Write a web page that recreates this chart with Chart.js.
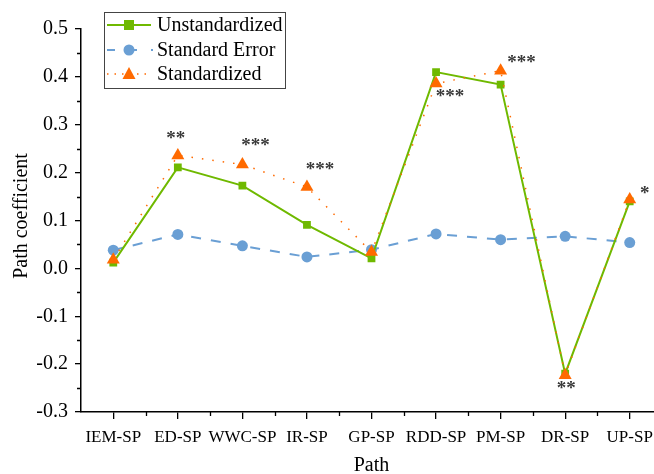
<!DOCTYPE html>
<html>
<head>
<meta charset="utf-8">
<script src="https://cdn.jsdelivr.net/npm/chart.js@4.4.1/dist/chart.umd.min.js"></script>
<style>
  html, body { margin: 0; padding: 0; background: #fff; overflow: hidden; width: 654px; height: 474px; }
  canvas { display: block; }
</style>
</head>
<body>
<canvas id="draw-on-me" width="680" height="474"></canvas>
<script>
'use strict';

const categories = ['IEM-SP', 'ED-SP', 'WWC-SP', 'IR-SP', 'GP-SP', 'RDD-SP', 'PM-SP', 'DR-SP', 'UP-SP'];
const unstandardized = [0.012, 0.211, 0.173, 0.091, 0.021, 0.410, 0.384, -0.220, 0.140];
const standardError = [0.038, 0.071, 0.047, 0.024, 0.039, 0.072, 0.060, 0.067, 0.054];
const standardized = [0.018, 0.236, 0.217, 0.170, 0.034, 0.386, 0.413, -0.223, 0.144];
const significance = ['', '**', '***', '***', '', '***', '***', '**', '*'];
const yMin = -0.3;
const yMax = 0.5;
const yStep = 0.1;

// where each star label sits, relative to the standardized point (px)
const starOffsets = [[0, 0], [-2, -16], [13, -18], [13, -17], [0, 0], [14, 14], [21, -8], [1, 14], [15, -5]];

const serif = '"Liberation Serif", "DejaVu Serif", serif';
const green = '#6fb900';
const blue = '#6a9fd4';
const orange = '#ff6a00';

// minor ticks, star labels and the legend box
const extras = {
    id: 'extras',
    afterDatasetsDraw(chart) {
        const ctx = chart.ctx;
        const meta = chart.getDatasetMeta(2);
        ctx.save();
        ctx.fillStyle = '#3a3a3a';
        ctx.font = 'bold 19px ' + serif;
        ctx.textAlign = 'center';
        ctx.textBaseline = 'middle';
        for (let i = 0; i < significance.length; i++) {
            if (!significance[i]) continue;
            let pt = meta.data[i];
            ctx.fillText(significance[i], pt.x + starOffsets[i][0], pt.y + starOffsets[i][1]);
        }
        ctx.restore();
    },
    afterDraw(chart) {
        const ctx = chart.ctx;
        const x = chart.scales.x;
        const y = chart.scales.y;
        const area = chart.chartArea;
        ctx.save();
        ctx.strokeStyle = '#000';
        ctx.lineWidth = 1.3;
        ctx.beginPath();
        for (let v = yMin + yStep / 2; v < yMax; v += yStep) {
            let py = Math.round(y.getPixelForValue(v)) + 0.5;
            ctx.moveTo(area.left, py);
            ctx.lineTo(area.left - 4, py);
        }
        for (let i = 0; i < categories.length - 1; i++) {
            let px = Math.round((x.getPixelForValue(i) + x.getPixelForValue(i + 1)) / 2) + 0.5;
            ctx.moveTo(px, area.bottom);
            ctx.lineTo(px, area.bottom + 4);
        }
        ctx.stroke();

        // y title, a bit above the middle like the original
        ctx.fillStyle = '#000';
        ctx.font = '20px ' + serif;
        ctx.textAlign = 'center';
        ctx.textBaseline = 'middle';
        ctx.translate(22, 216);
        ctx.rotate(-Math.PI / 2);
        ctx.fillText('Path coefficient', 0, 0);
        ctx.setTransform(1, 0, 0, 1, 0, 0);

        // legend
        ctx.strokeStyle = '#444';
        ctx.lineWidth = 1;
        ctx.strokeRect(104.5, 12.5, 181, 76);
        const rows = [25, 50, 74];
        ctx.lineWidth = 2;
        ctx.strokeStyle = green;
        ctx.beginPath(); ctx.moveTo(107, rows[0]); ctx.lineTo(151, rows[0]); ctx.stroke();
        ctx.fillStyle = green;
        ctx.fillRect(124, rows[0] - 5, 10, 10);

        ctx.strokeStyle = blue;
        ctx.setLineDash([8, 14]);
        ctx.beginPath(); ctx.moveTo(107, rows[1]); ctx.lineTo(153, rows[1]); ctx.stroke();
        ctx.setLineDash([]);
        ctx.fillStyle = blue;
        ctx.beginPath(); ctx.arc(129, rows[1], 5.5, 0, Math.PI * 2); ctx.fill();

        ctx.strokeStyle = orange;
        ctx.lineWidth = 1.5;
        ctx.setLineDash([1.5, 6]);
        ctx.beginPath(); ctx.moveTo(107, rows[2]); ctx.lineTo(152, rows[2]); ctx.stroke();
        ctx.setLineDash([]);
        ctx.fillStyle = orange;
        ctx.beginPath();
        ctx.moveTo(129, rows[2] - 7); ctx.lineTo(135.5, rows[2] + 5); ctx.lineTo(122.5, rows[2] + 5);
        ctx.closePath(); ctx.fill();

        ctx.fillStyle = '#000';
        ctx.font = '20px ' + serif;
        ctx.textAlign = 'left';
        ctx.textBaseline = 'middle';
        ctx.fillText('Unstandardized', 157, rows[0] + 1);
        ctx.fillText('Standard Error', 157, rows[1] + 1);
        ctx.fillText('Standardized', 157, rows[2] + 1);
        ctx.restore();
    }
};

let canvasElement = document.getElementById('draw-on-me').getContext('2d');

let myChart = {
    type: 'line',
    data: {
        labels: categories,
        datasets: [{
            label: 'Unstandardized',
            data: unstandardized,
            borderColor: green,
            backgroundColor: green,
            borderWidth: 2,
            pointStyle: 'rect',
            pointRadius: 5.5,
            pointBorderWidth: 0,
            order: 1
        },
        {
            label: 'Standard Error',
            data: standardError,
            borderColor: blue,
            backgroundColor: blue,
            borderWidth: 2,
            borderDash: [10, 10],
            pointStyle: 'circle',
            pointRadius: 5.5,
            pointBorderWidth: 0,
            order: 2
        },
        {
            label: 'Standardized',
            data: standardized,
            borderColor: orange,
            backgroundColor: orange,
            borderWidth: 1.5,
            borderDash: [1.5, 9],
            pointStyle: 'triangle',
            pointRadius: 7.5,
            pointBorderWidth: 0,
            order: 0
        }]
    },
    options: {
        responsive: false,
        animation: false,
        layout: { padding: { top: 29, right: 18, left: 0, bottom: 0 } },
        plugins: { legend: { display: false }, tooltip: { enabled: false } },
        scales: {
            x: {
                offset: true,
                afterFit: s => { s.height = 62; },
                grid: { drawOnChartArea: false, tickLength: 7, color: '#000', lineWidth: 1.3 },
                border: { color: '#000', width: 1.5 },
                ticks: { color: '#000', font: { family: serif, size: 17 }, padding: 8, maxRotation: 0, autoSkip: false },
                title: { display: true, text: 'Path', color: '#000', font: { family: serif, size: 20, lineHeight: 0.8 }, padding: { top: 0, bottom: 0 } }
            },
            y: {
                min: yMin,
                max: yMax,
                afterFit: s => { s.width = 81; },
                grid: { drawOnChartArea: false, tickLength: 6, color: '#000', lineWidth: 1.3 },
                border: { color: '#000', width: 1.5 },
                ticks: { stepSize: yStep, color: '#000', font: { family: serif, size: 20 }, padding: 7,
                    callback: v => v.toFixed(1) },
                title: { display: false }
            }
        }
    },
    plugins: [extras]
};

new Chart(canvasElement, myChart);
</script>
</body>
</html>
